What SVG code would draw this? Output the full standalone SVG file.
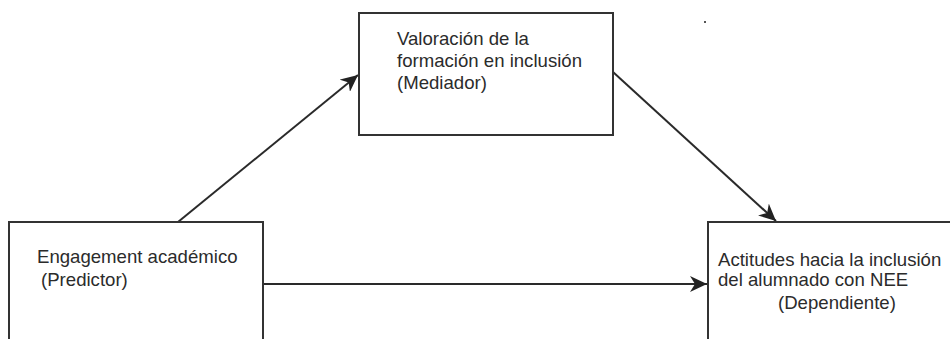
<svg xmlns="http://www.w3.org/2000/svg" width="950" height="339" viewBox="0 0 950 339">
<style>
.box{fill:#fff;stroke:#333;stroke-width:2}
.lbl{font-family:"Liberation Sans",Arial,sans-serif;font-size:18.6px;fill:#2b2b2b}
.edge{stroke:#2a2a2a;stroke-width:2;fill:none}
</style>
<defs>
<marker id="ah" markerUnits="userSpaceOnUse" markerWidth="18" markerHeight="16" refX="17" refY="8" orient="auto" viewBox="0 0 18 16">
<path d="M0,0 L17,8 L0,16 L5,8 Z" fill="#222"/>
</marker>
</defs>
<rect width="950" height="339" fill="#fff"/>
<g id="connectors">
<line class="edge" x1="178" y1="222" x2="358" y2="75" marker-end="url(#ah)"/>
<line class="edge" x1="613" y1="72" x2="776" y2="221" marker-end="url(#ah)"/>
<line class="edge" x1="263" y1="284" x2="707" y2="284" marker-end="url(#ah)"/>
</g>
<g id="node-mediador">
<rect class="box" x="359" y="13" width="254" height="122"/>
<text class="lbl" x="397" y="45">Valoración de la</text>
<text class="lbl" x="397" y="67">formación en inclusión</text>
<text class="lbl" x="397" y="89">(Mediador)</text>
</g>
<g id="node-predictor">
<rect class="box" x="9" y="222" width="254" height="130"/>
<text class="lbl" x="37" y="263">Engagement académico</text>
<text class="lbl" x="41" y="286">(Predictor)</text>
</g>
<g id="node-dependiente">
<rect class="box" x="708" y="222" width="260" height="130"/>
<text class="lbl" x="718" y="266">Actitudes hacia la inclusión</text>
<text class="lbl" x="718" y="286">del alumnado con NEE</text>
<text class="lbl" x="778" y="309">(Dependiente)</text>
</g>
<rect x="704" y="21" width="2" height="2" fill="#555"/>
</svg>
